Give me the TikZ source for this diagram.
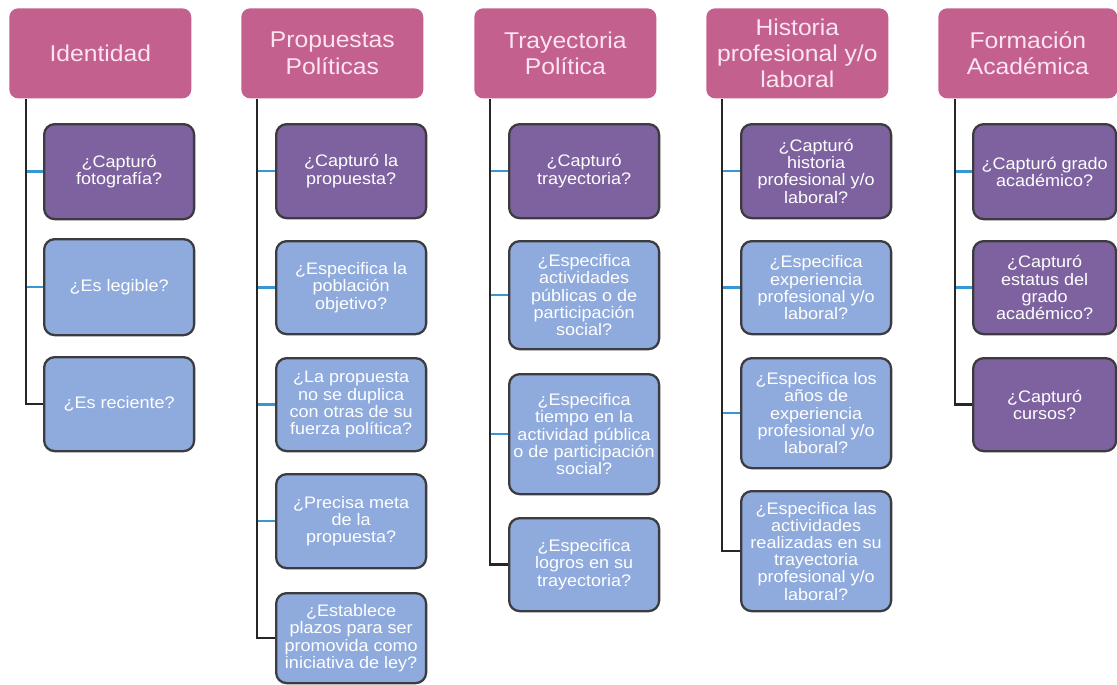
\documentclass[tikz,border=0pt]{standalone}
\usepackage{fontspec}
\setmainfont{Liberation Sans}[FakeStretch=1.08]
\usepackage{tikz}

\definecolor{rosa}{RGB}{195,96,142}
\definecolor{textorosa}{RGB}{252,228,240}
\definecolor{morado}{RGB}{126,98,160}
\definecolor{celeste}{RGB}{143,170,220}
\definecolor{borde}{RGB}{60,60,64}
\definecolor{lineazul}{RGB}{58,150,210}

\tikzset{
  encabezado/.style={rectangle, rounded corners=5pt, fill=rosa, text=textorosa,
    align=center, minimum width=3.64cm, minimum height=1.8cm, anchor=north west,
    inner sep=1pt, font=\fontsize{13}{15}\selectfont},
  pregunta/.style={rectangle, rounded corners=6pt, draw=borde, line width=1.3pt,
    text=white, align=center, minimum width=3cm, anchor=north west,
    inner sep=1pt, font=\fontsize{9.5}{9.8}\selectfont},
  morada/.style={pregunta, fill=morado},
  azul/.style={pregunta, fill=celeste},
  alto/.style={minimum height=#1*0.02cm},
  tronco/.style={line width=1.4pt, draw=black!85},
  rama/.style={line width=1.4pt, draw=lineazul},
}

\begin{document}
\begin{tikzpicture}[x=0.02cm, y=-0.02cm]

        \useasboundingbox (0,0) rectangle (1117,684);

        %Encabezados
        \node [encabezado] (h1) at   (9,8) {Identidad};
        \node [encabezado] (h2) at (241,8) {Propuestas\\Políticas};
        \node [encabezado] (h3) at (474,8) {Trayectoria\\Política};
        \node [encabezado] (h4) at (706,8) {Historia\\profesional y/o\\laboral};
        \node [encabezado, minimum width=3.58cm] (h5) at (938,8) {Formación\\Académica};

        %Identidad
        \node [morada, alto=95] (a1) at (43,123) {¿Capturó\\fotografía?};
        \node [azul,   alto=96] (a2) at (43,238) {¿Es legible?};
        \node [azul,   alto=94] (a3) at (43,356) {¿Es reciente?};

        %Propuestas
        \node [morada, alto=94] (b1) at (275,123) {¿Capturó la\\propuesta?};
        \node [azul,   alto=93] (b2) at (275,240) {¿Especifica la\\población\\objetivo?};
        \node [azul,   alto=93] (b3) at (275,357) {¿La propuesta\\no se duplica\\con otras de su\\fuerza política?};
        \node [azul,   alto=94] (b4) at (275,473) {¿Precisa meta\\de la\\propuesta?};
        \node [azul,   alto=90] (b5) at (275,592) {¿Establece\\plazos para ser\\promovida como\\iniciativa de ley?};

        %Trayectoria
        \node [morada, alto=94]  (c1) at (508,123) {¿Capturó\\trayectoria?};
        \node [azul,   alto=108] (c2) at (508,240) {¿Especifica\\actividades\\públicas o de\\participación\\social?};
        \node [azul,   alto=120] (c3) at (508,373) {¿Especifica\\tiempo en la\\actividad pública\\o de participación\\social?};
        \node [azul,   alto=93]  (c4) at (508,517) {¿Especifica\\logros en su\\trayectoria?};

        %Historia
        \node [morada, alto=94]  (d1) at (740,123) {¿Capturó\\historia\\profesional y/o\\laboral?};
        \node [azul,   alto=93]  (d2) at (740,240) {¿Especifica\\experiencia\\profesional y/o\\laboral?};
        \node [azul,   alto=110] (d3) at (740,357) {¿Especifica los\\años de\\experiencia\\profesional y/o\\laboral?};
        \node [azul,   alto=120] (d4) at (740,490) {¿Especifica las\\actividades\\realizadas en su\\trayectoria\\profesional y/o\\laboral?};

        %Formacion
        \node [morada, alto=95, minimum width=2.86cm] (e1) at (972,123) {¿Capturó grado\\académico?};
        \node [morada, alto=93, minimum width=2.86cm] (e2) at (972,240) {¿Capturó\\estatus del\\grado\\académico?};
        \node [morada, alto=93, minimum width=2.86cm] (e3) at (972,357) {¿Capturó\\cursos?};

        %Troncos
        \coordinate (t1) at ([xshift=0.34cm]h1.south west);
        \coordinate (t2) at ([xshift=0.32cm]h2.south west);
        \coordinate (t3) at ([xshift=0.32cm]h3.south west);
        \coordinate (t4) at ([xshift=0.32cm]h4.south west);
        \coordinate (t5) at ([xshift=0.34cm]h5.south west);

        %Ramas
        \draw [rama] (a1.west) -- (a1.west -| t1);
        \draw [rama] (a2.west) -- (a2.west -| t1);
        \draw [rama] (b1.west) -- (b1.west -| t2);
        \draw [rama] (b2.west) -- (b2.west -| t2);
        \draw [rama] (b3.west) -- (b3.west -| t2);
        \draw [rama] (b4.west) -- (b4.west -| t2);
        \draw [rama] (c1.west) -- (c1.west -| t3);
        \draw [rama] (c2.west) -- (c2.west -| t3);
        \draw [rama] (c3.west) -- (c3.west -| t3);
        \draw [rama] (d1.west) -- (d1.west -| t4);
        \draw [rama] (d2.west) -- (d2.west -| t4);
        \draw [rama] (d3.west) -- (d3.west -| t4);
        \draw [rama] (e1.west) -- (e1.west -| t5);
        \draw [rama] (e2.west) -- (e2.west -| t5);

        \draw [tronco] (t1) |- (a3.west);
        \draw [tronco] (t2) |- (b5.west);
        \draw [tronco] (t3) |- (c4.west);
        \draw [tronco] (t4) |- (d4.west);
        \draw [tronco] (t5) |- (e3.west);
      \end{tikzpicture}
\end{document}
